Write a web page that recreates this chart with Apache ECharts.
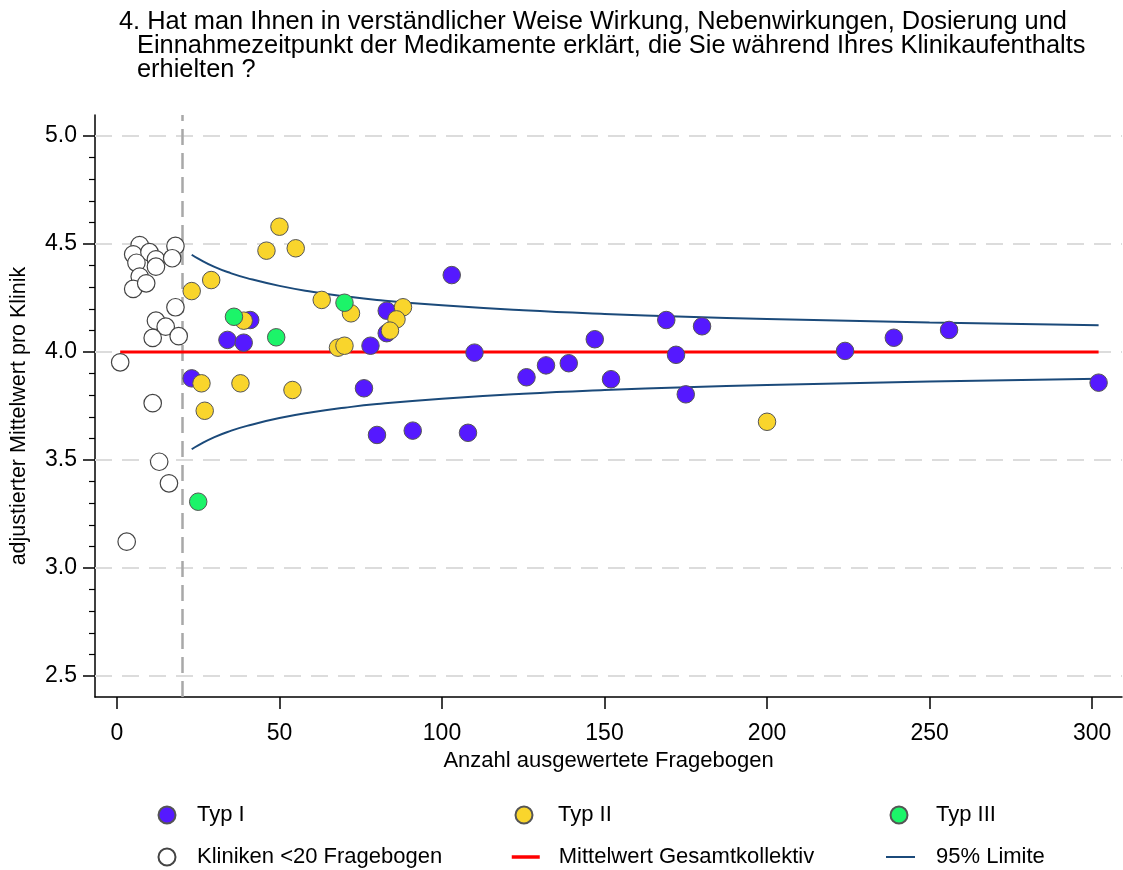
<!DOCTYPE html>
<html>
<head>
<meta charset="utf-8">
<script src="https://cdn.jsdelivr.net/npm/echarts@6/dist/echarts.min.js"></script>
<style>
html,body{margin:0;padding:0;background:#fff;}
#chart{width:1123px;height:870px;}
</style>
</head>
<body>
<div id="chart"></div>
<script>
// ---------- DATA ----------
const titleLines = [
  "4. Hat man Ihnen in verständlicher Weise Wirkung, Nebenwirkungen, Dosierung und",
  "Einnahmezeitpunkt der Medikamente erklärt, die Sie während Ihres Klinikaufenthalts",
  "erhielten ?"
];
const xTicks = [0, 50, 100, 150, 200, 250, 300];
const yTicks = [2.5, 3.0, 3.5, 4.0, 4.5, 5.0];
const yMinorTicks = [2.6,2.7,2.8,2.9,3.1,3.2,3.3,3.4,3.6,3.7,3.8,3.9,4.1,4.2,4.3,4.4,4.6,4.7,4.8,4.9];
const cutoffN = 20;
const overallMean = 4.0;

// Typ I
const typ1N    = [41, 34, 39, 23, 83, 83, 78, 76, 80, 91, 103, 110, 108, 126, 132, 139, 147, 152, 169, 180, 172, 175, 224, 239, 256, 302];
const typ1Mean = [4.148, 4.056, 4.043, 3.878, 4.191, 4.087, 4.029, 3.832, 3.616, 3.636, 4.356, 3.997, 3.626, 3.883, 3.938, 3.948, 4.059, 3.874, 4.148, 4.119, 3.987, 3.804, 4.005, 4.066, 4.102, 3.858];
// Typ II
const typ2N    = [23, 29, 39, 26, 38, 54, 27, 50, 46, 55, 63, 72, 88, 86, 84, 68, 70, 200];
const typ2Mean = [4.282, 4.333, 4.145, 3.855, 3.855, 3.824, 3.728, 4.580, 4.469, 4.480, 4.241, 4.179, 4.207, 4.151, 4.099, 4.020, 4.029, 3.677];
// Typ III
const typ3N    = [36, 49, 70, 25];
const typ3Mean = [4.163, 4.068, 4.228, 3.307];
// Kliniken < 20 Fragebogen
const smallN    = [7, 5, 10, 6, 12, 12, 18, 17, 7, 5, 9, 18, 12, 15, 11, 19, 1, 11, 13, 16, 3];
const smallMean = [4.495, 4.452, 4.462, 4.413, 4.429, 4.395, 4.491, 4.434, 4.349, 4.292, 4.318, 4.207, 4.145, 4.117, 4.065, 4.073, 3.952, 3.763, 3.492, 3.392, 3.122];
// 95% limits
const limitN     = [23, 25, 30, 35, 40, 50, 60, 70, 80, 100, 125, 150, 175, 200, 250, 302];
const limitUpper = [4.450, 4.432, 4.394, 4.365, 4.342, 4.306, 4.279, 4.258, 4.241, 4.216, 4.193, 4.176, 4.163, 4.153, 4.137, 4.124];
const limitLower = [3.550, 3.568, 3.606, 3.635, 3.658, 3.694, 3.721, 3.742, 3.759, 3.784, 3.807, 3.824, 3.837, 3.847, 3.863, 3.876];

// ---------- BUILD ----------
const FONT = "'Liberation Sans', Arial, sans-serif";
const pairs = (a, b) => a.map((v, i) => [v, b[i]]);
const allN = [].concat(typ1N, typ2N, typ3N, smallN);
const meanLine = [[Math.min.apply(null, allN), overallMean], [Math.max.apply(null, allN), overallMean]];

const markerBorder = { borderColor: '#555555', borderWidth: 1, opacity: 1 };

const chart = echarts.init(document.getElementById('chart'), null, { renderer: 'canvas' });

const titleFont = 25.4;
const titleCenters = [22, 46, 70];
const titleLefts = [119, 137, 137];

const legendFont = 22;
function circleLegend(name, cx, cy, textLeft) {
  const left = cx - 8.5;
  return {
    data: [name], left: left, top: cy - legendFont / 2, padding: 0,
    itemWidth: 17, itemHeight: 17, icon: 'circle',
    textStyle: { fontFamily: FONT, fontSize: legendFont, color: '#000', padding: [0, 0, 0, textLeft - (left + 22)] }
  };
}
function lineLegend(name, x0, w, cy, textLeft, lw) {
  return {
    data: [name], left: x0, top: cy - legendFont / 2, padding: 0,
    itemWidth: w, itemHeight: 17,
    itemStyle: { opacity: 0, borderWidth: 0 },
    lineStyle: { width: lw },
    textStyle: { fontFamily: FONT, fontSize: legendFont, color: '#000', padding: [0, 0, 0, textLeft - (x0 + w + 5)] }
  };
}

const option = {
  backgroundColor: '#ffffff',
  animation: false,
  title: titleLines.map((t, i) => ({
    text: t, left: titleLefts[i], top: titleCenters[i] - titleFont / 2, padding: 0,
    textStyle: { fontFamily: FONT, fontSize: titleFont, fontWeight: 'normal', color: '#000' }
  })),
  legend: [
    circleLegend('Typ I', 166, 815, 196),
    circleLegend('Typ II', 523, 815, 557),
    circleLegend('Typ III', 898, 815, 935),
    circleLegend('Kliniken <20 Fragebogen', 166, 857, 196),
    lineLegend('Mittelwert Gesamtkollektiv', 510, 28, 857, 557, 3.5),
    lineLegend('95% Limite', 885, 29, 857, 935, 2)
  ],
  grid: { left: 93, right: 1, top: 115, bottom: 173, containLabel: false },
  xAxis: {
    type: 'value', min: -6.75, max: 309.2,
    axisLine: { show: true, onZero: false, lineStyle: { color: '#000', width: 1.5 } },
    axisTick: { show: true, customValues: xTicks, length: 12, lineStyle: { color: '#000', width: 1.5 } },
    axisLabel: { customValues: xTicks, fontFamily: FONT, fontSize: 23, color: '#000', margin: 25 },
    splitLine: { show: false },
    name: 'Anzahl ausgewertete Fragebogen', nameLocation: 'middle', nameGap: 49,
    nameTextStyle: { fontFamily: FONT, fontSize: 22, color: '#000' }
  },
  yAxis: [{
    type: 'value', min: 2.403, max: 5.097,
    axisLine: { show: true, onZero: false, lineStyle: { color: '#000', width: 1.5 } },
    axisTick: { show: true, customValues: yTicks, length: 12, lineStyle: { color: '#000', width: 1.5 } },
    axisLabel: { customValues: yTicks, fontFamily: FONT, fontSize: 23, color: '#000', margin: 18,
      formatter: v => Number(v).toFixed(1) },
    splitLine: { show: false },
    name: 'adjustierter Mittelwert pro Klinik', nameLocation: 'middle', nameRotate: 90, nameGap: 65,
    nameTextStyle: { fontFamily: FONT, fontSize: 21.5, color: '#000', padding: [0, 20, 0, 0] }
  }, {
    type: 'value', min: 2.403, max: 5.097, position: 'left', offset: 0,
    axisLine: { show: false, onZero: false },
    axisTick: { show: true, customValues: yMinorTicks, length: 6, lineStyle: { color: '#000', width: 1.2 } },
    axisLabel: { show: false },
    splitLine: { show: false }
  }],
  series: [
    { // horizontal grid lines
      type: 'line', data: [], z: 1, silent: true,
      markLine: { silent: true, z: 1, symbol: 'none', label: { show: false },
        lineStyle: { color: '#dcdcdc', type: [17, 10], width: 2 },
        data: yTicks.map(v => ({ yAxis: v })) }
    },
    { // cutoff line
      type: 'line', data: [], z: 2, silent: true,
      markLine: { silent: true, z: 2, symbol: 'none', label: { show: false },
        lineStyle: { color: '#a8a8a8', type: [16, 8], width: 2.5 },
        data: [{ xAxis: cutoffN }] }
    },
    { name: '95% Limite', type: 'line', z: 3, data: pairs(limitN, limitUpper), smooth: true,
      symbol: 'none', color: '#1b4a7a', lineStyle: { color: '#1b4a7a', width: 2 } },
    { name: '95% Limite', type: 'line', z: 3, data: pairs(limitN, limitLower), smooth: true,
      symbol: 'none', color: '#1b4a7a', lineStyle: { color: '#1b4a7a', width: 2 } },
    { name: 'Mittelwert Gesamtkollektiv', type: 'line', z: 4, data: meanLine,
      symbol: 'none', color: '#ff0000', lineStyle: { color: '#ff0000', width: 3 } },
    { name: 'Kliniken <20 Fragebogen', type: 'scatter', z: 5, symbol: 'circle', symbolSize: 17.5,
      data: pairs(smallN, smallMean), itemStyle: { color: '#ffffff', borderColor: '#444444', borderWidth: 1.2, opacity: 1 } },
    { name: 'Typ I', type: 'scatter', z: 6, symbol: 'circle', symbolSize: 17.5,
      data: pairs(typ1N, typ1Mean), itemStyle: Object.assign({ color: '#5519ff' }, markerBorder) },
    { name: 'Typ II', type: 'scatter', z: 7, symbol: 'circle', symbolSize: 17.5,
      data: pairs(typ2N, typ2Mean), itemStyle: Object.assign({ color: '#f9d52c' }, markerBorder) },
    { name: 'Typ III', type: 'scatter', z: 8, symbol: 'circle', symbolSize: 17.5,
      data: pairs(typ3N, typ3Mean), itemStyle: Object.assign({ color: '#1cf469' }, markerBorder) }
  ]
};
chart.setOption(option);
</script>
</body>
</html>
